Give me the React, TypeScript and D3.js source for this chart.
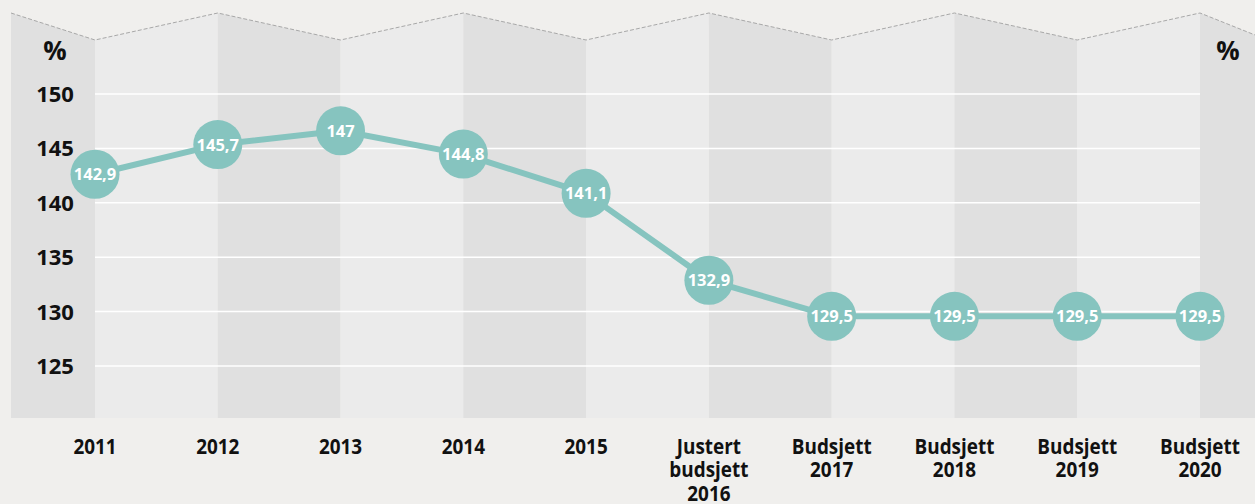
import React from "react";
import * as d3 from "d3";

const categories: string[][] = [
  ["2011"],
  ["2012"],
  ["2013"],
  ["2014"],
  ["2015"],
  ["Justert", "budsjett", "2016"],
  ["Budsjett", "2017"],
  ["Budsjett", "2018"],
  ["Budsjett", "2019"],
  ["Budsjett", "2020"],
];
const values: number[] = [142.9, 145.7, 147, 144.8, 141.1, 132.9, 129.5, 129.5, 129.5, 129.5];
const yTicks: number[] = [125, 130, 135, 140, 145, 150];

const W = 1255;
const H = 504;
const FONT = "'Open Sans', 'DejaVu Sans', sans-serif";
const LINE_COLOR = "#86c4bf";
const BG = "#f0efed";
const LIGHT = "#ebebeb";
const DARK = "#e0e0e0";

export default function App() {
  const keys = categories.map((c) => c.join(" "));
  const x = d3.scalePoint<string>().domain(keys).range([95, 1200]);
  // grid scale
  const y = d3.scaleLinear().domain([125, 150]).range([366, 94]);
  // marker scale (the source's markers sit slightly off the grid)
  const yp = d3.scaleLinear().domain([125, 150]).range([364, 99]);
  const step = x.step();
  const bottom = 418;
  const low = 40;
  const high = 13;

  const xs = keys.map((k) => x(k) as number);
  const topY = (i: number) => (i % 2 === 0 ? low : high);
  const bands: { pts: [number, number][]; fill: string }[] = [];
  bands.push({
    pts: [
      [11, high],
      [xs[0], low],
      [xs[0], bottom],
      [11, bottom],
    ],
    fill: DARK,
  });
  for (let i = 1; i < xs.length; i++) {
    bands.push({
      pts: [
        [xs[i - 1], topY(i - 1)],
        [xs[i], topY(i)],
        [xs[i], bottom],
        [xs[i - 1], bottom],
      ],
      fill: i % 2 === 1 ? LIGHT : DARK,
    });
  }
  const lastI = xs.length - 1;
  const rightEnd = xs[lastI] + step * 0.55;
  bands.push({
    pts: [
      [xs[lastI], topY(lastI)],
      [rightEnd, topY(lastI + 1)],
      [rightEnd, bottom],
      [xs[lastI], bottom],
    ],
    fill: DARK,
  });

  const topLinePts: [number, number][] = [
    [11, high],
    ...xs.map((v, i) => [v, topY(i)] as [number, number]),
    [rightEnd, topY(lastI + 1)],
  ];

  const line = d3
    .line<number>()
    .x((_, i) => xs[i])
    .y((d) => yp(d));

  const fmt = (v: number) => (Number.isInteger(v) ? String(v) : v.toFixed(1).replace(".", ","));

  return (
    <svg
      width={W}
      height={H}
      style={{ position: "absolute", left: 0, top: 0, display: "block" }}
      fontFamily={FONT}
    >
      <rect x={0} y={0} width={W} height={H} fill={BG} />
      {bands.map((b, i) => (
        <polygon key={i} points={b.pts.map((p) => p.join(",")).join(" ")} fill={b.fill} />
      ))}
      <path
        d={d3.line()(topLinePts) as string}
        fill="none"
        stroke="#a8a8a8"
        strokeWidth={1}
        strokeDasharray="4,2"
      />
      {yTicks.map((t) => (
        <line key={t} x1={xs[0]} x2={xs[lastI]} y1={y(t)} y2={y(t)} stroke="#ffffff" strokeWidth={1.5} />
      ))}
      {yTicks.map((t) => (
        <text
          key={"l" + t}
          x={55}
          y={y(t)}
          dy="0.36em"
          textAnchor="middle"
          fontSize={22}
          fontWeight={700}
          fill="#111"
        >
          {t}
        </text>
      ))}
      <text x={55} y={51} dy="0.36em" textAnchor="middle" fontSize={26} fontWeight={700} fill="#111">
        %
      </text>
      <text x={1228} y={51} dy="0.36em" textAnchor="middle" fontSize={26} fontWeight={700} fill="#111">
        %
      </text>
      <path d={line(values) as string} fill="none" stroke={LINE_COLOR} strokeWidth={6} strokeLinejoin="round" />
      {values.map((v, i) => (
        <g key={i}>
          <circle cx={xs[i]} cy={yp(v)} r={24.5} fill={LINE_COLOR} />
          <text
            x={xs[i]}
            y={yp(v)}
            dy="0.36em"
            textAnchor="middle"
            fontSize={16.5}
            fontWeight={700}
            fill="#ffffff"
          >
            {fmt(v)}
          </text>
        </g>
      ))}
      {categories.map((c, i) => (
        <g key={"c" + i} transform={`translate(${xs[i]},0) scale(0.86,1)`}>
          <text x={0} y={454} textAnchor="middle" fontSize={22} fontWeight={700} fill="#111">
            {c.map((s, j) => (
              <tspan key={j} x={0} dy={j === 0 ? 0 : 23.5}>
                {s}
              </tspan>
            ))}
          </text>
        </g>
      ))}
    </svg>
  );
}
